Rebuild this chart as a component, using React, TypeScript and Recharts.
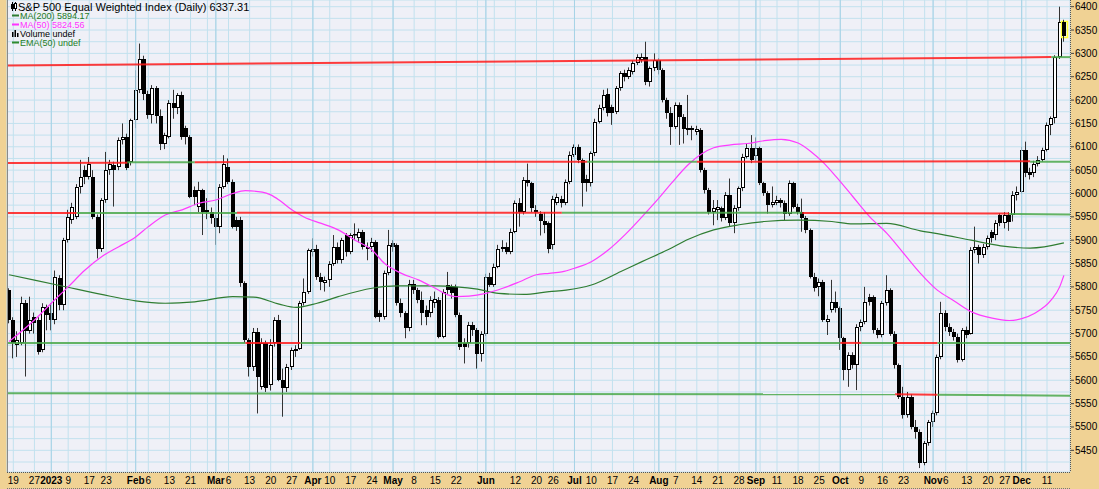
import React from 'react';
import { ComposedChart, Bar, Line, XAxis, YAxis, CartesianGrid, ReferenceLine } from 'recharts';

// trading days, month by month
const dec22Days = [16, 19, 20, 21, 22, 23, 27, 28, 29, 30];
const jan23Days = [3, 4, 5, 6, 9, 10, 11, 12, 13, 17, 18, 19, 20, 23, 24, 25, 26, 27, 30, 31];
const feb23Days = [1, 2, 3, 6, 7, 8, 9, 10, 13, 14, 15, 16, 17, 21, 22, 23, 24, 27, 28];
const mar23Days = [1, 2, 3, 6, 7, 8, 9, 10, 13, 14, 15, 16, 17, 20, 21, 22, 23, 24, 27, 28, 29, 30, 31];
const apr23Days = [3, 4, 5, 6, 10, 11, 12, 13, 14, 17, 18, 19, 20, 21, 24, 25, 26, 27, 28];
const may23Days = [1, 2, 3, 4, 5, 8, 9, 10, 11, 12, 15, 16, 17, 18, 19, 22, 23, 24, 25, 26, 30, 31];
const jun23Days = [1, 2, 5, 6, 7, 8, 9, 12, 13, 14, 15, 16, 20, 21, 22, 23, 26, 27, 28, 29, 30];
const jul23Days = [3, 5, 6, 7, 10, 11, 12, 13, 14, 17, 18, 19, 20, 21, 24, 25, 26, 27, 28, 31];
const aug23Days = [1, 2, 3, 4, 7, 8, 9, 10, 11, 14, 15, 16, 17, 18, 21, 22, 23, 24, 25, 28, 29, 30, 31];
const sep23Days = [1, 5, 6, 7, 8, 11, 12, 13, 14, 15, 18, 19, 20, 21, 22, 25, 26, 27, 28, 29];
const oct23Days = [2, 3, 4, 5, 6, 9, 10, 11, 12, 13, 16, 17, 18, 19, 20, 23, 24, 25, 26, 27, 30, 31];
const nov23Days = [1, 2, 3, 6, 7, 8, 9, 10, 13, 14, 15, 16, 17, 20, 21, 22, 24, 27, 28, 29, 30];
const dec23Days = [1, 4, 5, 6, 7, 8, 11, 12, 13, 14, 15];

// [open, high, low, close]
const dec22 = [
  [5793, 5797, 5722, 5729], [5729, 5735, 5647, 5679], [5676, 5705, 5650, 5687], [5679, 5779, 5675, 5765],
  [5765, 5772, 5608, 5705], [5705, 5779, 5700, 5729], [5735, 5745, 5700, 5722], [5729, 5735, 5655, 5661],
  [5665, 5765, 5660, 5757], [5757, 5762, 5707, 5740],
];
const jan23 = [
  [5743, 5765, 5707, 5729], [5729, 5835, 5720, 5822], [5820, 5825, 5750, 5761], [5761, 5905, 5750, 5900],
  [5900, 5965, 5895, 5950], [5943, 5980, 5935, 5972], [5950, 6020, 5945, 6014], [6014, 6072, 6000, 6036],
  [6050, 6060, 6020, 6036], [6036, 6078, 6030, 6064], [6036, 6050, 5945, 5950], [5950, 5955, 5861, 5882],
  [5882, 5990, 5875, 5986], [5986, 6089, 5980, 6050], [6050, 6072, 6040, 6064], [6061, 6068, 5972, 6050],
  [6057, 6120, 6050, 6114], [6114, 6150, 6105, 6122], [6122, 6128, 6050, 6054], [6068, 6160, 6060, 6157],
];
const feb23 = [
  [6157, 6264, 6140, 6222], [6222, 6321, 6215, 6289], [6289, 6295, 6200, 6214], [6214, 6220, 6160, 6168],
  [6168, 6232, 6150, 6225], [6225, 6230, 6150, 6165], [6165, 6180, 6093, 6107], [6107, 6130, 6095, 6125],
  [6122, 6200, 6118, 6193], [6193, 6222, 6160, 6182], [6182, 6215, 6170, 6211], [6211, 6218, 6115, 6122],
  [6140, 6145, 6105, 6122], [6122, 6125, 5990, 5993], [6007, 6015, 5975, 5993], [5972, 6025, 5960, 6007],
  [6007, 6010, 5911, 5961], [5961, 5990, 5945, 5965], [5961, 5970, 5935, 5947],
];
const mar23 = [
  [5947, 5955, 5890, 5929], [5929, 6020, 5915, 6014], [6014, 6082, 6010, 6064], [6057, 6075, 6020, 6025],
  [6025, 6030, 5925, 5929], [5943, 5950, 5920, 5929], [5943, 5950, 5800, 5808], [5808, 5812, 5680, 5686],
  [5686, 5690, 5608, 5629], [5629, 5712, 5620, 5704], [5704, 5712, 5529, 5608], [5586, 5690, 5580, 5679],
  [5679, 5685, 5575, 5583], [5590, 5688, 5578, 5676], [5679, 5735, 5672, 5729], [5729, 5740, 5598, 5600],
  [5600, 5625, 5522, 5583], [5583, 5635, 5575, 5629], [5629, 5670, 5622, 5665], [5663, 5675, 5650, 5668],
  [5668, 5770, 5665, 5765], [5765, 5818, 5760, 5790], [5790, 5882, 5785, 5879],
];
const apr23 = [
  [5875, 5904, 5865, 5882], [5882, 5890, 5815, 5822], [5822, 5830, 5793, 5811], [5808, 5822, 5790, 5814],
  [5815, 5855, 5800, 5850], [5850, 5911, 5845, 5886], [5886, 5895, 5850, 5857], [5857, 5905, 5850, 5900],
  [5911, 5915, 5865, 5875], [5875, 5915, 5870, 5911], [5911, 5936, 5900, 5914], [5904, 5925, 5895, 5918],
  [5918, 5922, 5880, 5886], [5886, 5895, 5857, 5882], [5886, 5905, 5875, 5897], [5897, 5900, 5733, 5736],
  [5743, 5750, 5725, 5736], [5736, 5835, 5730, 5829], [5829, 5922, 5825, 5889],
];
const may23 = [
  [5893, 5900, 5875, 5886], [5889, 5893, 5760, 5765], [5765, 5775, 5735, 5743], [5743, 5748, 5690, 5711],
  [5711, 5815, 5705, 5807], [5807, 5815, 5785, 5793], [5793, 5798, 5765, 5772], [5772, 5790, 5718, 5743],
  [5750, 5760, 5718, 5735], [5743, 5780, 5735, 5772], [5765, 5790, 5755, 5775], [5772, 5778, 5690, 5693],
  [5693, 5795, 5690, 5790], [5805, 5832, 5785, 5793], [5800, 5805, 5775, 5786], [5800, 5805, 5735, 5740],
  [5740, 5745, 5665, 5672], [5679, 5690, 5636, 5672], [5679, 5725, 5670, 5718], [5718, 5725, 5695, 5707],
  [5707, 5712, 5625, 5657], [5657, 5705, 5640, 5700],
];
const jun23 = [
  [5700, 5828, 5695, 5822], [5822, 5830, 5800, 5804], [5804, 5850, 5800, 5843], [5843, 5890, 5840, 5882],
  [5882, 5900, 5875, 5886], [5886, 5895, 5870, 5875], [5875, 5925, 5870, 5918], [5918, 5985, 5915, 5979],
  [5979, 5990, 5929, 5961], [5961, 6035, 5955, 6029], [6029, 6064, 6015, 6022], [6022, 6025, 5960, 5968],
  [5961, 5975, 5950, 5965], [5957, 5962, 5910, 5940], [5940, 5960, 5915, 5932], [5936, 5940, 5872, 5882],
  [5890, 5995, 5880, 5989], [5979, 6000, 5975, 5993], [5989, 5995, 5970, 5979], [5979, 6030, 5975, 6025],
  [6025, 6090, 6020, 6082],
];
const jul23 = [
  [6082, 6105, 6078, 6100], [6100, 6105, 6065, 6072], [6072, 6075, 5972, 6022], [6032, 6040, 6004, 6022],
  [6022, 6090, 6015, 6086], [6086, 6160, 6080, 6154], [6154, 6190, 6150, 6182], [6182, 6222, 6178, 6211],
  [6214, 6225, 6165, 6172], [6186, 6190, 6147, 6172], [6175, 6230, 6170, 6225], [6225, 6262, 6220, 6257],
  [6257, 6265, 6240, 6250], [6250, 6270, 6245, 6264], [6261, 6285, 6255, 6279], [6279, 6298, 6275, 6293],
  [6286, 6300, 6280, 6293], [6293, 6325, 6232, 6239], [6239, 6272, 6229, 6268], [6268, 6300, 6262, 6286],
];
const aug23 = [
  [6286, 6290, 6255, 6264], [6264, 6268, 6195, 6200], [6200, 6205, 6160, 6172], [6172, 6185, 6104, 6143],
  [6143, 6195, 6138, 6189], [6189, 6195, 6104, 6164], [6164, 6170, 6107, 6139], [6136, 6211, 6125, 6140],
  [6140, 6145, 6114, 6136], [6132, 6145, 6125, 6138], [6136, 6140, 6045, 6050], [6050, 6055, 6000, 6007],
  [6007, 6012, 5955, 5961], [5961, 5986, 5932, 5968], [5965, 5986, 5943, 5970], [5968, 5972, 5940, 5947],
  [5947, 6003, 5943, 5997], [5997, 6032, 5930, 5936], [5936, 5975, 5915, 5968], [5968, 6015, 5963, 6011],
  [6011, 6085, 6005, 6079], [6079, 6107, 6075, 6097], [6097, 6125, 6065, 6072],
];
const sep23 = [
  [6080, 6120, 6070, 6097], [6097, 6100, 6018, 6022], [6022, 6025, 5995, 6000], [6000, 6005, 5957, 5975],
  [5975, 6015, 5970, 5982], [5979, 5995, 5975, 5986], [5986, 5990, 5970, 5979], [5979, 5985, 5943, 5957],
  [5957, 6028, 5952, 6022], [6022, 6025, 5968, 5972], [5972, 5978, 5955, 5961], [5961, 5989, 5918, 5947],
  [5947, 5952, 5915, 5922], [5922, 5925, 5818, 5822], [5822, 5830, 5790, 5797], [5800, 5818, 5780, 5811],
  [5811, 5815, 5725, 5729], [5725, 5740, 5697, 5732], [5750, 5815, 5745, 5768], [5768, 5790, 5745, 5754],
];
const oct23 = [
  [5754, 5758, 5665, 5690], [5690, 5693, 5600, 5622], [5622, 5660, 5586, 5654], [5654, 5660, 5625, 5632],
  [5632, 5720, 5579, 5715], [5715, 5730, 5705, 5725], [5725, 5800, 5720, 5768], [5779, 5785, 5760, 5768],
  [5779, 5782, 5700, 5707], [5707, 5712, 5690, 5697], [5697, 5770, 5692, 5765], [5765, 5825, 5760, 5793],
  [5793, 5797, 5695, 5700], [5700, 5705, 5625, 5632], [5632, 5636, 5560, 5565], [5565, 5586, 5518, 5525],
  [5525, 5575, 5520, 5565], [5565, 5570, 5495, 5500], [5500, 5515, 5475, 5490], [5490, 5495, 5412, 5422],
  [5422, 5470, 5418, 5465], [5465, 5515, 5460, 5511],
];
const nov23 = [
  [5511, 5535, 5500, 5529], [5529, 5655, 5525, 5650], [5650, 5768, 5645, 5743], [5743, 5750, 5705, 5715],
  [5715, 5722, 5695, 5704], [5704, 5710, 5685, 5693], [5693, 5700, 5638, 5643], [5643, 5712, 5640, 5707],
  [5707, 5715, 5690, 5697], [5700, 5885, 5698, 5879], [5879, 5929, 5872, 5886], [5886, 5890, 5850, 5868],
  [5868, 5892, 5862, 5886], [5886, 5910, 5880, 5904], [5918, 5922, 5895, 5904], [5912, 5943, 5900, 5936],
  [5954, 5958, 5930, 5936], [5936, 5960, 5925, 5954], [5954, 5960, 5920, 5939], [5954, 6005, 5940, 5997],
  [5997, 6015, 5985, 6004],
];
const dec23 = [
  [6004, 6100, 6000, 6093], [6093, 6111, 6035, 6043], [6047, 6055, 6030, 6039], [6043, 6070, 6035, 6064],
  [6064, 6080, 6058, 6072], [6072, 6098, 6068, 6093], [6093, 6152, 6090, 6146], [6146, 6165, 6125, 6161],
  [6161, 6296, 6150, 6293], [6293, 6400, 6288, 6368], [6368, 6372, 6325, 6337.31],
];

// moving averages read at some of the sessions: [session index, value]
const ma50Points = [
  [0, 5683], [6, 5729], [10, 5765], [14, 5800], [18, 5836], [22, 5865], [26, 5886], [30, 5907], [33, 5929],
  [37, 5954], [41, 5965], [45, 5979], [49, 5986], [53, 6000], [56, 6006], [60, 6003], [62, 5997], [64, 5986],
  [67, 5965], [70, 5949], [74, 5936], [78, 5922], [82, 5900], [86, 5879], [89, 5850], [93, 5829], [97, 5815],
  [101, 5797], [104, 5783], [106, 5779], [109, 5780], [113, 5786], [117, 5797], [121, 5811], [125, 5826],
  [128, 5829], [131, 5832], [134, 5840], [138, 5854], [142, 5879], [146, 5912], [150, 5950], [154, 5990],
  [157, 6022], [161, 6062], [164, 6084], [167, 6098], [171, 6104], [175, 6107], [179, 6113], [183, 6116],
  [187, 6108], [190, 6090], [193, 6066], [196, 6036], [200, 5993], [204, 5950], [208, 5915], [212, 5872],
  [216, 5829], [220, 5793], [224, 5770], [228, 5747], [233, 5733], [237, 5728], [240, 5732], [243, 5743],
  [247, 5772], [249, 5800], [250, 5824.56],
];
const ma200Points = [
  [0, 5826], [12, 5803], [24, 5780], [30, 5770], [37, 5765], [44, 5768], [53, 5779], [58, 5778], [64, 5763],
  [68, 5756], [73, 5765], [78, 5779], [86, 5797], [92, 5802], [101, 5802], [106, 5800], [111, 5795],
  [116, 5786], [122, 5784], [128, 5790], [132, 5793], [138, 5804], [145, 5833], [150, 5854], [156, 5879],
  [161, 5902], [167, 5922], [173, 5933], [179, 5940], [187, 5943], [195, 5940], [200, 5935], [208, 5936],
  [216, 5920], [220, 5914], [228, 5900], [235, 5888], [242, 5883], [250, 5894.17],
];

// drawn support / resistance lines: [from, to, value at from, value at to]
const redLines = [
  ['2022-12-16', '2023-12-12', 6274, 6292],
  ['2022-12-16', '2023-01-30', 6065, 6066],
  ['2023-02-22', '2023-07-07', 6067, 6068],
  ['2023-08-14', '2023-12-05', 6068, 6069],
  ['2022-12-16', '2023-01-11', 5958, 5958],
  ['2023-03-08', '2023-06-28', 5959, 5959],
  ['2023-09-19', '2023-11-28', 5958, 5957],
  ['2023-03-10', '2023-03-29', 5680, 5680],
  ['2023-10-02', '2023-10-09', 5680, 5680],
  ['2023-10-19', '2023-11-02', 5680, 5680],
  ['2023-10-19', '2023-11-02', 5570, 5569],
];
const greenLines = [
  ['2023-12-12', '2023-12-15', 6292, 6292],
  ['2023-01-30', '2023-02-22', 6067, 6067],
  ['2023-07-07', '2023-08-14', 6068, 6068],
  ['2023-12-05', '2023-12-15', 6068, 6068],
  ['2023-01-11', '2023-03-08', 5958, 5958],
  ['2023-06-28', '2023-09-19', 5959, 5959],
  ['2023-11-28', '2023-12-15', 5956, 5955],
  ['2022-12-16', '2023-03-10', 5680, 5680],
  ['2023-03-29', '2023-10-02', 5680, 5680],
  ['2023-10-09', '2023-10-19', 5680, 5680],
  ['2023-11-02', '2023-12-15', 5680, 5680],
  ['2022-12-16', '2023-10-19', 5572, 5570],
  ['2023-11-02', '2023-12-15', 5569, 5567],
];

const weekStarts = [
  '2022-12-19', '2022-12-27', '2023-01-03', '2023-01-09', '2023-01-17', '2023-01-23', '2023-01-30',
  '2023-02-06', '2023-02-13', '2023-02-21', '2023-02-27', '2023-03-06', '2023-03-13', '2023-03-20',
  '2023-03-27', '2023-04-03', '2023-04-10', '2023-04-17', '2023-04-24', '2023-05-01', '2023-05-08',
  '2023-05-15', '2023-05-22', '2023-05-30', '2023-06-05', '2023-06-12', '2023-06-20', '2023-06-26',
  '2023-07-03', '2023-07-10', '2023-07-17', '2023-07-24', '2023-07-31', '2023-08-07', '2023-08-14',
  '2023-08-21', '2023-08-28', '2023-09-05', '2023-09-11', '2023-09-18', '2023-09-25', '2023-10-02',
  '2023-10-09', '2023-10-16', '2023-10-23', '2023-10-30', '2023-11-06', '2023-11-13', '2023-11-20',
  '2023-11-27', '2023-12-04', '2023-12-11',
];
const monthStarts = [
  '2023-01-03', '2023-02-01', '2023-03-01', '2023-04-03', '2023-05-01', '2023-06-01',
  '2023-07-03', '2023-08-01', '2023-09-01', '2023-10-02', '2023-11-01', '2023-12-01',
];
const monthLabels = ['2023', 'Feb', 'Mar', 'Apr', 'May', 'Jun', 'Jul', 'Aug', 'Sep', 'Oct', 'Nov', 'Dec'];
const unlabelledWeeks = [
  '2023-01-30', '2023-02-27', '2023-05-30', '2023-06-05', '2023-07-31', '2023-09-05', '2023-10-30', '2023-12-04',
];
const yTicks = [
  5425, 5450, 5475, 5500, 5525, 5550, 5575, 5600, 5625, 5650, 5675, 5700, 5725, 5750, 5775, 5800, 5825, 5850,
  5875, 5900, 5925, 5950, 5975, 6000, 6025, 6050, 6075, 6100, 6125, 6150, 6175, 6200, 6225, 6250, 6275, 6300,
  6325, 6350, 6375, 6400,
];

const months: [string, number[], number[][]][] = [
  ['2022-12', dec22Days, dec22], ['2023-01', jan23Days, jan23], ['2023-02', feb23Days, feb23],
  ['2023-03', mar23Days, mar23], ['2023-04', apr23Days, apr23], ['2023-05', may23Days, may23],
  ['2023-06', jun23Days, jun23], ['2023-07', jul23Days, jul23], ['2023-08', aug23Days, aug23],
  ['2023-09', sep23Days, sep23], ['2023-10', oct23Days, oct23], ['2023-11', nov23Days, nov23],
  ['2023-12', dec23Days, dec23],
];

const rows: any[] = [];
months.forEach(([ym, days, bars]) => {
  days.forEach((d, i) => {
    const [o, h, l, c] = bars[i];
    rows.push({ date: `${ym}-${String(d).padStart(2, '0')}`, o, h, l, c, range: [l, h] });
  });
});
rows[rows.length - 1].last = true;
ma50Points.forEach(([i, v]) => { rows[i].ma50 = v; });
ma200Points.forEach(([i, v]) => { rows[i].ma200 = v; });

const xTicks = Array.from(new Set([...weekStarts, ...monthStarts])).sort();

const PLOT_LEFT = 7;
const PLOT_RIGHT = 1070;
const PLOT_BOTTOM = 472;
const TAN = '#f0d294';
const FONT = '"Liberation Sans", Arial, sans-serif';

function Candle(props: any) {
  const { x, y, width, height, payload } = props;
  if (!payload || x == null || y == null) return null;
  const { o, h, l, c, last } = payload;
  const top = Math.min(y, y + height);
  const span = Math.abs(height);
  const py = (v: number) => top + (h === l ? 0 : ((h - v) / (h - l)) * span);
  const cx = Math.round(x + width / 2);
  const bTop = Math.round(py(Math.max(o, c)));
  const bBot = Math.round(py(Math.min(o, c)));
  const bodyH = Math.max(bBot - bTop, 1);
  const wick = <line x1={cx - 0.5} x2={cx - 0.5} y1={py(h)} y2={py(l)} stroke="#333" strokeWidth={1} />;
  if (c >= o) {
    return (
      <g>
        {wick}
        <rect x={cx - 1.5} y={bTop + 0.5} width={3} height={Math.max(bodyH - 1, 0.5)} fill="#fff" stroke="#000" strokeWidth={1} />
      </g>
    );
  }
  return (
    <g>
      {last && <rect x={cx - 2.5} y={bTop - 0.5} width={6} height={bodyH + 2} fill="none" stroke="#ffff33" strokeWidth={1.5} />}
      {wick}
      <rect x={cx - 2} y={bTop} width={4} height={bodyH} fill="#000" />
    </g>
  );
}

function XTick(props: any) {
  const { x, payload } = props;
  const v = payload.value as string;
  const mi = monthStarts.indexOf(v);
  let text = '';
  let bold = false;
  if (mi >= 0) {
    text = monthLabels[mi];
    bold = true;
  } else if (!unlabelledWeeks.includes(v)) {
    text = String(Number(v.slice(8)));
  }
  if (!text) return null;
  return (
    <text x={x} y={484} textAnchor="middle" fontSize={10} fontFamily={FONT} fontWeight={bold ? 'bold' : 'normal'} fill="#000">
      {text}
    </text>
  );
}

function YTick(props: any) {
  const { y, payload } = props;
  if (payload.value % 50 !== 0) return null;
  return (
    <g>
      <line x1={PLOT_RIGHT + 1} x2={PLOT_RIGHT + 4} y1={y} y2={y} stroke="#444" />
      <text x={PLOT_RIGHT + 5} y={y + 3.5} fontSize={10} fontFamily={FONT} fill="#000">
        {payload.value}
      </text>
    </g>
  );
}

const segShape = (color: string) => (p: any) => {
  let { x1, x2 } = p;
  if (x1 < PLOT_LEFT + 4) x1 = PLOT_LEFT + 0.5;
  if (x2 > PLOT_RIGHT - 8) x2 = PLOT_RIGHT;
  return <line x1={x1} y1={p.y1} x2={x2} y2={p.y2} stroke={color} strokeWidth={2} strokeOpacity={0.85} />;
};

export default function App() {
  return (
    <div style={{ position: 'absolute', left: 0, top: 0, width: 1099, height: 489, background: TAN, overflow: 'hidden' }}>
      <ComposedChart width={1099} height={489} data={rows} margin={{ top: 0, right: 0, bottom: 0, left: PLOT_LEFT }}>
        <CartesianGrid stroke="#c2e1ee" fill="#eff0f7" fillOpacity={1} />
        <XAxis
          dataKey="date"
          ticks={xTicks}
          interval={0}
          tick={XTick}
          tickLine={false}
          axisLine={false}
          height={17}
          padding={{ left: 0, right: 4 }}
        />
        <YAxis
          orientation="right"
          width={29}
          domain={[5403.6, 6414.3]}
          ticks={yTicks}
          interval={0}
          tick={YTick}
          tickLine={false}
          axisLine={false}
          allowDataOverflow
        />
        {monthStarts.map((d) => (
          <ReferenceLine key={'m' + d} x={d} stroke="#a6d2e6" strokeWidth={1} />
        ))}
        <Bar dataKey="range" barSize={4} shape={(p: any) => <Candle {...p} />} isAnimationActive={false} />
        <Line dataKey="ma200" type="monotone" stroke="#2f7d32" strokeWidth={1.2} dot={false} connectNulls isAnimationActive={false} />
        <Line dataKey="ma50" type="monotone" stroke="#ff3cff" strokeWidth={1.2} dot={false} connectNulls isAnimationActive={false} />
        {greenLines.map(([a, b, v1, v2], i) => (
          <ReferenceLine
            key={'g' + i}
            segment={[{ x: a, y: v1 }, { x: b, y: v2 }]}
            shape={segShape('#4aa84a')}
            ifOverflow="visible"
          />
        ))}
        {redLines.map(([a, b, v1, v2], i) => (
          <ReferenceLine
            key={'r' + i}
            segment={[{ x: a, y: v1 }, { x: b, y: v2 }]}
            shape={segShape('#ff1a1a')}
            ifOverflow="visible"
          />
        ))}
      </ComposedChart>
      <svg width={1099} height={489} style={{ position: 'absolute', left: 0, top: 0, pointerEvents: 'none' }}>
        <line x1={PLOT_LEFT + 0.5} x2={PLOT_LEFT + 0.5} y1={0} y2={PLOT_BOTTOM} stroke="#8a8a8a" />
        <line x1={PLOT_RIGHT + 0.5} x2={PLOT_RIGHT + 0.5} y1={0} y2={PLOT_BOTTOM} stroke="#555" strokeDasharray="1 1" />
        <line x1={PLOT_LEFT} x2={PLOT_RIGHT} y1={PLOT_BOTTOM + 0.5} y2={PLOT_BOTTOM + 0.5} stroke="#555" strokeDasharray="1 1" />
        <line x1={PLOT_LEFT} x2={PLOT_RIGHT} y1={488.5} y2={488.5} stroke="#777" strokeDasharray="1 1" />
        {/* title */}
        <line x1={12.5} x2={12.5} y1={2} y2={11} stroke="#000" />
        <rect x={11} y={4} width={3} height={5} fill="#000" />
        <line x1={15.5} x2={15.5} y1={2} y2={11} stroke="#000" />
        <rect x={14.5} y={3.5} width={2} height={5} fill="#fff" stroke="#000" />
        <text x={18} y={10.5} fontSize={11} fontFamily={FONT} fill="#000">
          S&amp;P 500 Equal Weighted Index (Daily) 6337.31
        </text>
        {/* legend */}
        <line x1={12} x2={19} y1={15.5} y2={15.5} stroke="#2f7d32" strokeWidth={2} />
        <text x={20} y={18.8} fontSize={9} fontFamily={FONT} fill="#1d7a1d">MA(200) 5894.17</text>
        <line x1={12} x2={19} y1={24.5} y2={24.5} stroke="#ff33ff" strokeWidth={2} />
        <text x={20} y={28} fontSize={9} fontFamily={FONT} fill="#ff33ff">MA(50) 5824.56</text>
        <rect x={12} y={32} width={1.5} height={5} fill="#000" />
        <rect x={14.5} y={30} width={1.5} height={7} fill="#000" />
        <rect x={17} y={33} width={1.5} height={4} fill="#000" />
        <text x={20} y={37.2} fontSize={9} fontFamily={FONT} fill="#000">Volume undef</text>
        <line x1={12} x2={19} y1={42.5} y2={42.5} stroke="#2e8b2e" strokeWidth={2} />
        <text x={20} y={46.2} fontSize={9} fontFamily={FONT} fill="#1f7f1f">EMA(50) undef</text>
      </svg>
    </div>
  );
}
